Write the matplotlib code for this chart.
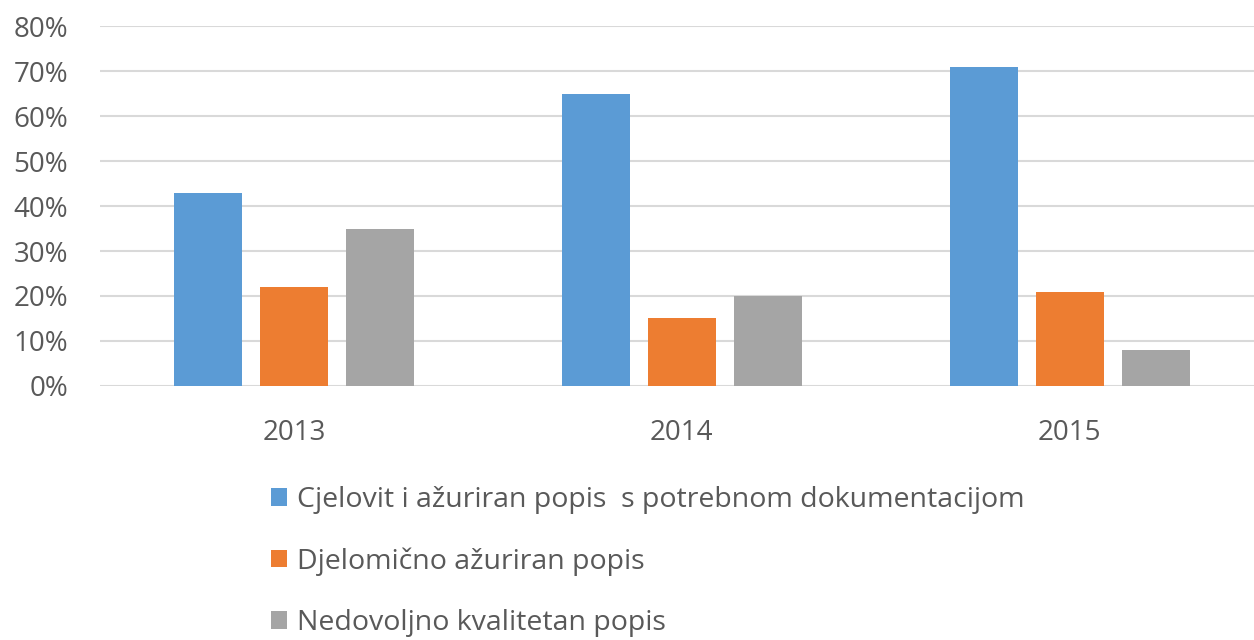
import numpy as np
import matplotlib
matplotlib.use("Agg")
import matplotlib.pyplot as plt
from matplotlib.patches import Patch
from matplotlib.ticker import PercentFormatter

years = ["2013", "2014", "2015"]
series_names = [
    "Cjelovit i ažuriran popis  s potrebnom dokumentacijom",
    "Djelomično ažuriran popis",
    "Nedovoljno kvalitetan popis",
]
cjelovit = [43, 65, 71]
djelomicno = [22, 15, 21]
nedovoljno = [35, 20, 8]
colors = ["#5b9bd5", "#ed7d31", "#a5a5a5"]

plt.rcParams["font.family"] = ["Open Sans", "DejaVu Sans"]
text_color = "#595959"

fig = plt.figure(figsize=(12.54, 6.4), dpi=100)
ax = fig.add_axes([0.0797, 0.397, 0.928, 0.562])

x = np.arange(len(years))
width = 0.175
step = 0.222
for i, (vals, col) in enumerate(zip([cjelovit, djelomicno, nedovoljno], colors)):
    ax.bar(x + (i - 1) * step, vals, width=width, color=col, zorder=3)

ax.set_xlim(-0.5, len(years) - 0.5)
ax.set_ylim(0, 80)
ax.set_yticks(np.arange(0, 81, 10))
ax.yaxis.set_major_formatter(PercentFormatter(decimals=0))
ax.set_xticks(x)
ax.set_xticklabels(years)
ax.grid(axis="y", color="#d9d9d9", linewidth=1.5, zorder=0)
for s in ax.spines.values():
    s.set_visible(False)
ax.tick_params(axis="both", length=0, labelsize=20, labelcolor=text_color)
ax.tick_params(axis="y", pad=23)
ax.tick_params(axis="x", pad=24)

handles = [Patch(facecolor=c, edgecolor="none") for c in colors]
fig.legend(handles, series_names, loc="upper left", bbox_to_anchor=(0.216, 0.241),
           frameon=False, fontsize=20.5, labelcolor=text_color,
           handlelength=0.58, handleheight=0.58, handletextpad=0.33,
           labelspacing=1.17, borderpad=0, borderaxespad=0)

fig.savefig("out.png", dpi=100)
